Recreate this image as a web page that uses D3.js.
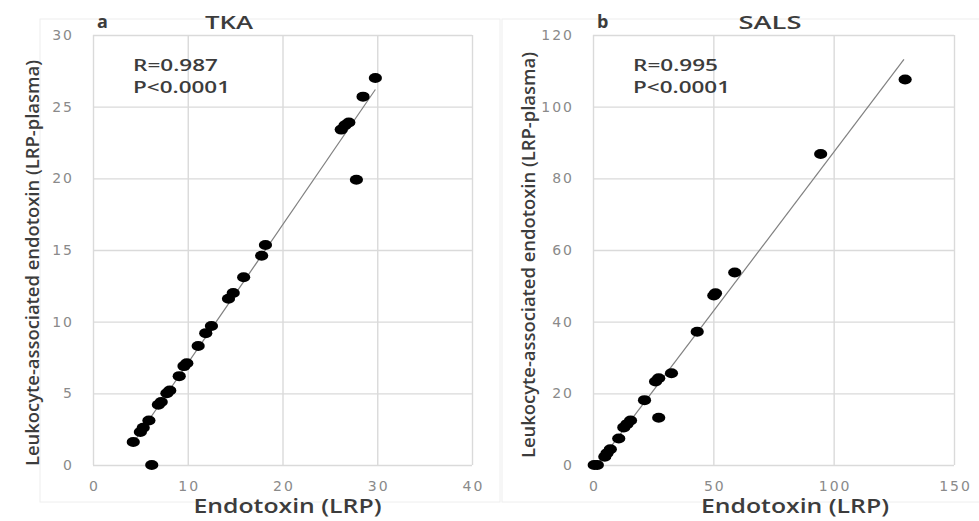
<!DOCTYPE html>
<html>
<head>
<meta charset="utf-8">
<script src="https://cdn.jsdelivr.net/npm/d3@7"></script>
<style>
  body { margin: 0; background: #fff; }
  svg { display: block; }
  .tick text { font-family: "DejaVu Sans", sans-serif; font-size: 14px; fill: #8a8a8a; letter-spacing: 2px; }
  .tick line { stroke: #dadada; stroke-width: 1.4; }
  .lbl { font-family: "Open Sans", sans-serif; fill: #3c3c3c; }
</style>
</head>
<body>
<div id="chart"></div>
<script>
// TKA panel (a)
const tkaX = [29.8, 28.5, 27.0, 26.6, 26.2, 27.8, 18.2, 17.8, 15.9, 14.8, 14.3, 12.5, 11.9, 11.1, 9.9, 9.6, 9.1, 8.1, 7.8, 7.2, 6.9, 5.9, 5.3, 5.0, 4.25, 6.2];
const tkaY = [27.0, 25.7, 23.9, 23.7, 23.4, 19.9, 15.35, 14.6, 13.1, 12.0, 11.6, 9.7, 9.2, 8.3, 7.1, 6.9, 6.2, 5.2, 5.0, 4.4, 4.2, 3.1, 2.6, 2.3, 1.6, 0];
const tkaTrend = [[4.2, 1.5], [29.8, 26.2]];
const tkaXTicks = [0, 10, 20, 30, 40];
const tkaYTicks = [0, 5, 10, 15, 20, 25, 30];

// SALS panel (b)
const salsX = [129.7, 94.6, 58.9, 50.9, 50.2, 43.3, 32.6, 27.3, 26.0, 27.3, 21.4, 15.6, 14.1, 12.8, 10.7, 7.2, 5.8, 4.9, 1.8, 0.5];
const salsY = [107.6, 86.8, 53.7, 47.9, 47.3, 37.2, 25.6, 24.2, 23.3, 13.2, 18.1, 12.4, 11.4, 10.5, 7.4, 4.4, 3.3, 2.3, 0, 0];
const salsTrend = [[2, 0.3], [129.2, 113.2]];
const salsXTicks = [0, 50, 100, 150];
const salsYTicks = [0, 20, 40, 60, 80, 100, 120];

const W = 979, H = 521;
const svg = d3.select("#chart").append("svg").attr("width", W).attr("height", H);

const panels = [
  { letter: "a", title: "TKA", xs: tkaX, ys: tkaY, trend: tkaTrend, xt: tkaXTicks, yt: tkaYTicks,
    xd: [0, 40], yd: [0, 30], left: 93, right: 472, top: 35, bottom: 465,
    frame: [40, 19, 460, 483], titleX: 229, titleLen: 48, yLabelY: 263, yLabelX: 39, xLabelX: 287.5,
    r: "R=0.987" },
  { letter: "b", title: "SALS", xs: salsX, ys: salsY, trend: salsTrend, xt: salsXTicks, yt: salsYTicks,
    xd: [0, 150], yd: [0, 120], left: 593, right: 954, top: 35, bottom: 465,
    frame: [502, 19, 500, 483], titleX: 770, titleLen: 63, yLabelY: 255, yLabelX: 535, xLabelX: 795,
    r: "R=0.995" }
];

panels.forEach(p => {
  const g = svg.append("g");

  // faint chart-area frame
  g.append("rect")
    .attr("x", p.frame[0]).attr("y", p.frame[1])
    .attr("width", p.frame[2]).attr("height", p.frame[3])
    .attr("fill", "none").attr("stroke", "#eeeeee");

  const x = d3.scaleLinear().domain(p.xd).range([p.left, p.right]);
  const y = d3.scaleLinear().domain(p.yd).range([p.bottom, p.top]);

  g.append("g")
    .attr("transform", `translate(${p.left},0)`)
    .call(d3.axisLeft(y).tickValues(p.yt).tickSizeInner(-(p.right - p.left)).tickSizeOuter(0).tickPadding(19))
    .call(a => a.select(".domain").remove());

  g.append("g")
    .attr("transform", `translate(0,${p.bottom})`)
    .call(d3.axisBottom(x).tickValues(p.xt).tickSizeInner(-(p.bottom - p.top)).tickSizeOuter(0).tickPadding(16))
    .call(a => a.select(".domain").remove())
    .call(a => a.selectAll(".tick text").attr("dx", "1px"));

  // trend line
  g.append("line")
    .attr("x1", x(p.trend[0][0])).attr("y1", y(p.trend[0][1]))
    .attr("x2", x(p.trend[1][0])).attr("y2", y(p.trend[1][1]))
    .attr("stroke", "#808080").attr("stroke-width", 1.2);

  // points
  g.selectAll("ellipse.pt")
    .data(p.xs.map((v, i) => [v, p.ys[i]]))
    .enter().append("ellipse")
    .attr("class", "pt")
    .attr("cx", d => x(d[0])).attr("cy", d => y(d[1]))
    .attr("rx", 6.6).attr("ry", 5)
    .attr("fill", "#000");

  // letters and titles
  g.append("text").attr("class", "lbl")
    .attr("x", p.left + 4).attr("y", 28)
    .style("font-size", "18px").style("font-weight", "bold").attr("fill", "#2a2a2a")
    .text(p.letter);

  g.append("text").attr("class", "lbl")
    .attr("x", p.titleX).attr("y", 29).attr("text-anchor", "middle")
    .attr("textLength", p.titleLen).attr("lengthAdjust", "spacingAndGlyphs")
    .style("font-size", "18px").style("font-weight", 600)
    .text(p.title);

  // stats
  g.append("text").attr("class", "lbl")
    .attr("x", p.left + 40).attr("y", 71)
    .attr("textLength", 85).attr("lengthAdjust", "spacingAndGlyphs")
    .style("font-size", "17px").style("font-weight", 600)
    .text(p.r);
  g.append("text").attr("class", "lbl")
    .attr("x", p.left + 40).attr("y", 93)
    .attr("textLength", 97).attr("lengthAdjust", "spacingAndGlyphs")
    .style("font-size", "17px").style("font-weight", 600)
    .text("P<0.0001");

  // axis titles
  g.append("text").attr("class", "lbl")
    .attr("x", p.xLabelX).attr("y", 513).attr("text-anchor", "middle")
    .attr("textLength", 188).attr("lengthAdjust", "spacingAndGlyphs")
    .style("font-size", "20px").style("font-weight", 600)
    .text("Endotoxin (LRP)");

  g.append("text").attr("class", "lbl")
    .attr("transform", `translate(${p.yLabelX},${p.yLabelY}) rotate(-90)`)
    .attr("text-anchor", "middle")
    .attr("textLength", 406).attr("lengthAdjust", "spacingAndGlyphs")
    .style("font-size", "18px").style("font-weight", 600)
    .text("Leukocyte-associated endotoxin (LRP-plasma)");
});
</script>
</body>
</html>
